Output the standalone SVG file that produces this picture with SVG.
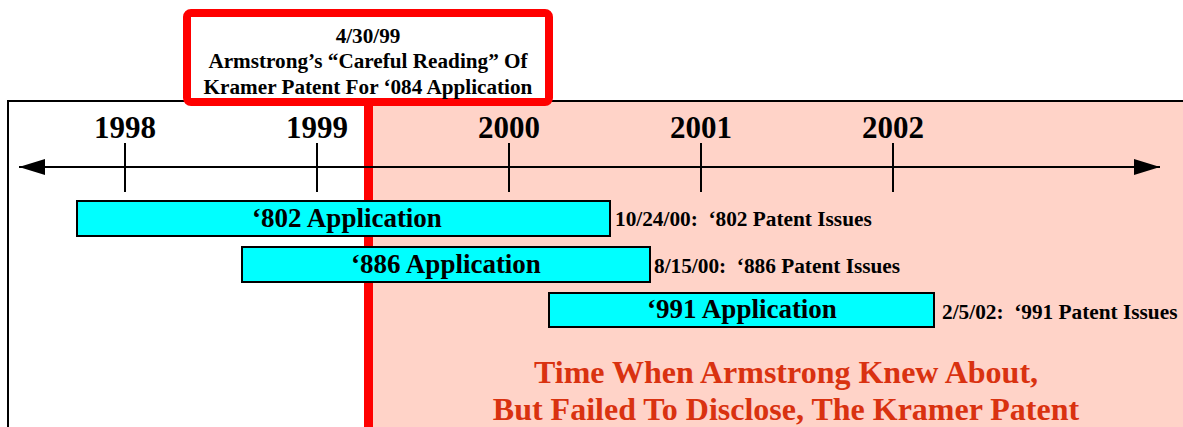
<svg xmlns="http://www.w3.org/2000/svg" width="1183" height="427" viewBox="0 0 1183 427">
<style>
.t{font-family:"Liberation Serif","Times New Roman",serif;font-weight:bold;fill:#000;white-space:pre}
.yr{font-size:31px;text-anchor:middle}
.bx{font-size:21.2px;text-anchor:middle}
.bar{fill:#00FFFF;stroke:#000;stroke-width:2}
.bl{font-size:27px;text-anchor:middle}
.iss{font-size:21.3px}
.tick{stroke:#000;stroke-width:2}
.red{font-family:"Liberation Serif","Times New Roman",serif;font-weight:bold;fill:#D93210;font-size:32px;text-anchor:middle}
</style>
<defs>
<marker id="ah" viewBox="0 0 10 10" refX="10" refY="5" markerWidth="26" markerHeight="16" markerUnits="userSpaceOnUse" orient="auto-start-reverse" preserveAspectRatio="none">
<path d="M0,0 L10,5 L0,10 z" fill="#000"/>
</marker>
</defs>
<rect x="0" y="0" width="1183" height="427" fill="#fff"/>
<g id="frame">
<rect x="372" y="101" width="811" height="326" fill="#FFD3C8"/>
<path d="M8,427 V101 H1183" fill="none" stroke="#000" stroke-width="2"/>
</g>
<g id="marker-line">
<line x1="368.5" y1="100" x2="368.5" y2="427" stroke="#FF0000" stroke-width="9"/>
</g>
<g id="connectors">
<line x1="19" y1="167" x2="1160" y2="167" stroke="#000" stroke-width="2" marker-start="url(#ah)" marker-end="url(#ah)"/>
<line class="tick" x1="125" y1="143" x2="125" y2="192"/>
<line class="tick" x1="317" y1="143" x2="317" y2="192"/>
<line class="tick" x1="509" y1="143" x2="509" y2="192"/>
<line class="tick" x1="701" y1="143" x2="701" y2="192"/>
<line class="tick" x1="893" y1="143" x2="893" y2="192"/>
</g>
<g id="years">
<text class="t yr" x="125" y="138">1998</text>
<text class="t yr" x="317" y="138">1999</text>
<text class="t yr" x="509" y="138">2000</text>
<text class="t yr" x="701" y="138">2001</text>
<text class="t yr" x="893" y="138">2002</text>
</g>
<g id="bar802">
<rect class="bar" x="77" y="201" width="533" height="35"/>
<text class="t bl" x="347" y="227">‘802 Application</text>
<text class="t iss" x="615" y="226">10/24/00:  ‘802 Patent Issues</text>
</g>
<g id="bar886">
<rect class="bar" x="242" y="247" width="408" height="35"/>
<text class="t bl" x="446" y="273">‘886 Application</text>
<text class="t iss" x="654" y="273">8/15/00:  ‘886 Patent Issues</text>
</g>
<g id="bar991">
<rect class="bar" x="549" y="293" width="385" height="34"/>
<text class="t bl" x="742" y="318">‘991 Application</text>
<text class="t iss" x="942" y="319">2/5/02:  ‘991 Patent Issues</text>
</g>
<g id="callout">
<rect x="187" y="13" width="362" height="89" rx="4" fill="#fff" stroke="#FF0000" stroke-width="8"/>
<text class="t bx" x="368" y="43">4/30/99</text>
<text class="t bx" x="368" y="68">Armstrong’s “Careful Reading” Of</text>
<text class="t bx" x="368" y="94">Kramer Patent For ‘084 Application</text>
</g>
<g id="caption">
<text class="red" x="786" y="383">Time When Armstrong Knew About,</text>
<text class="red" x="786" y="420">But Failed To Disclose, The Kramer Patent</text>
</g>
</svg>
